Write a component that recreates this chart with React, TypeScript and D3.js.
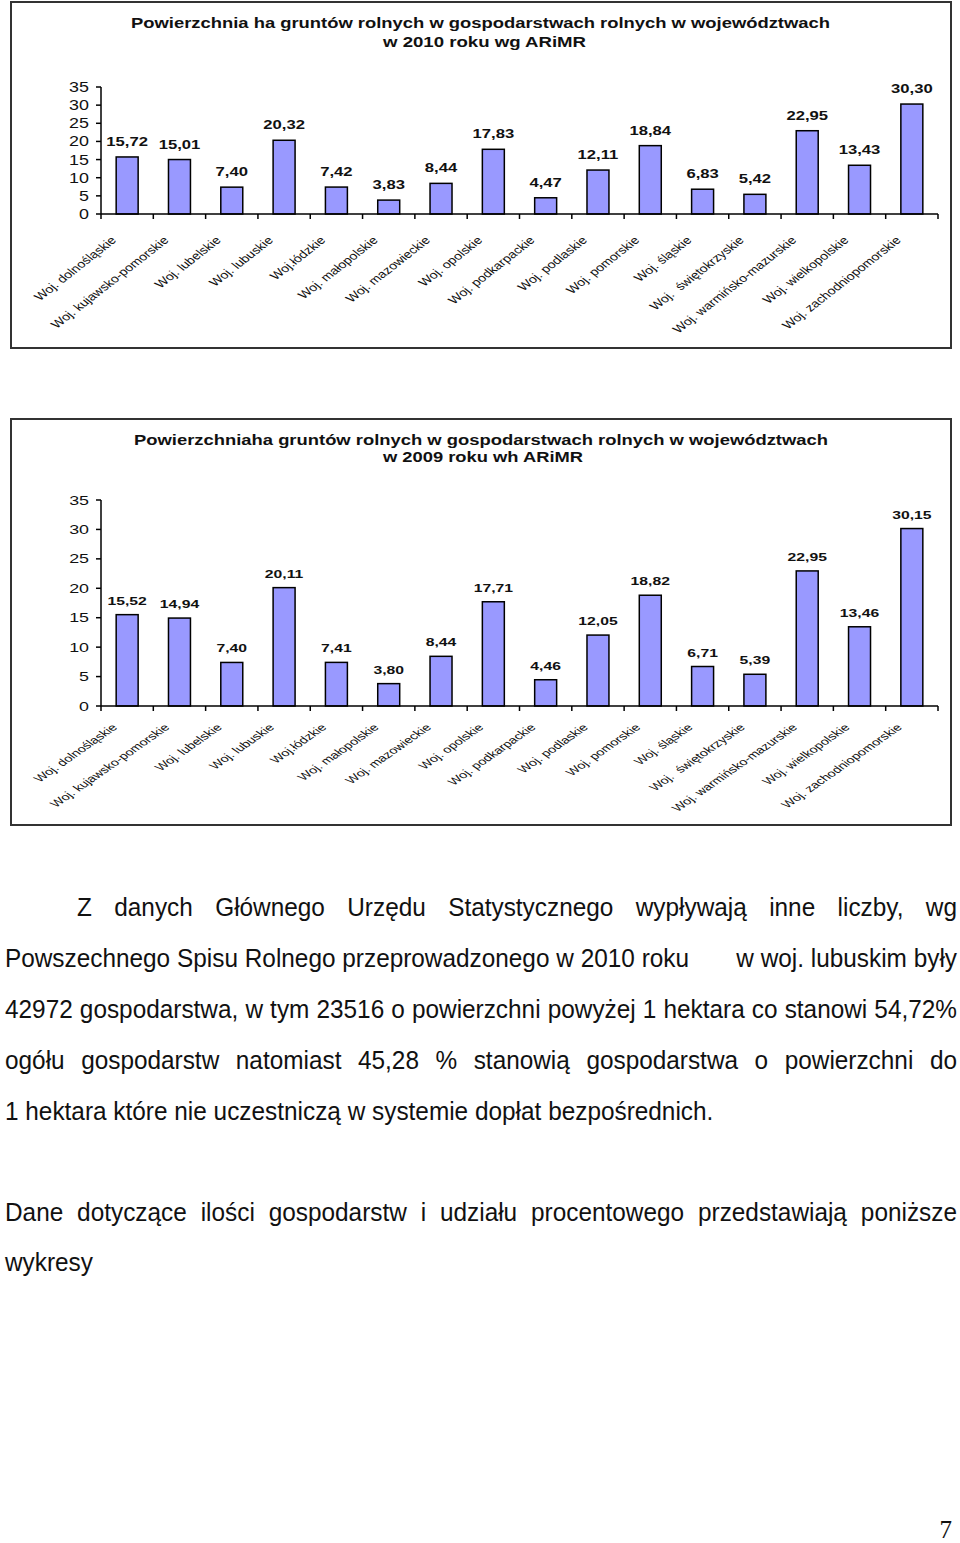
import React, { useEffect, useRef } from "react";
import * as d3 from "d3";

const categories = [
  "Woj. dolnośląskie",
  "Woj. kujawsko-pomorskie",
  "Woj. lubelskie",
  "Woj. lubuskie",
  "Woj.łódzkie",
  "Woj. małopolskie",
  "Woj. mazowieckie",
  "Woj. opolskie",
  "Woj. podkarpackie",
  "Woj. podlaskie",
  "Woj. pomorskie",
  "Woj. śląskie",
  "Woj.  świętokrzyskie",
  "Woj. warmińsko-mazurskie",
  "Woj. wielkopolskie",
  "Woj. zachodniopomorskie",
];

const values2010 = [15.72, 15.01, 7.4, 20.32, 7.42, 3.83, 8.44, 17.83, 4.47, 12.11, 18.84, 6.83, 5.42, 22.95, 13.43, 30.3];
const values2009 = [15.52, 14.94, 7.4, 20.11, 7.41, 3.8, 8.44, 17.71, 4.46, 12.05, 18.82, 6.71, 5.39, 22.95, 13.46, 30.15];

const yTicks = [0, 5, 10, 15, 20, 25, 30, 35];

const title2010 = ["Powierzchnia ha gruntów rolnych w gospodarstwach rolnych w województwach", "w 2010 roku wg ARiMR"];
const title2009 = ["Powierzchniaha gruntów rolnych w gospodarstwach rolnych w województwach", "w 2009 roku wh ARiMR"];

const paragraph1 = [
  "Z danych Głównego Urzędu Statystycznego wypływają inne liczby, wg",
  "Powszechnego Spisu Rolnego przeprowadzonego w 2010 roku|w woj. lubuskim były",
  "42972 gospodarstwa, w tym 23516 o powierzchni powyżej 1 hektara co stanowi 54,72%",
  "ogółu gospodarstw natomiast 45,28 % stanowią gospodarstwa o powierzchni do",
  "1 hektara które nie uczestniczą w systemie dopłat bezpośrednich.",
];
const paragraph2 = [
  "Dane dotyczące ilości gospodarstw i udziału procentowego przedstawiają poniższe",
  "wykresy",
];

const pageNumber = "7";

const fmt = (v: number) => d3.format(".2f")(v).replace(".", ",");

const SANS = "'Liberation Sans', Arial, sans-serif";

type ChartCfg = {
  values: number[];
  title: string[];
  box: [number, number, number, number];
  titleBase: [number, number];
  titleSpan: [[number, number], [number, number]];
  yTop: number;
  yBottom: number;
  stretch: number;
  tickFont: number;
  valueFont: number;
  catFont: number;
  labelGap: number;
  catDx: number;
  catDy: number;
};

function drawChart(svg: d3.Selection<SVGSVGElement, unknown, null, undefined>, cfg: ChartCfg) {
  const g = svg.append("g");
  const [bx, by, bw, bh] = cfg.box;
  g.append("rect")
    .attr("x", bx).attr("y", by).attr("width", bw).attr("height", bh)
    .attr("fill", "#fff").attr("stroke", "#333").attr("stroke-width", 2);

  cfg.title.forEach((t, i) => {
    const [x0, x1] = cfg.titleSpan[i];
    g.append("text")
      .attr("x", x0).attr("y", cfg.titleBase[i])
      .attr("textLength", x1 - x0)
      .attr("lengthAdjust", "spacingAndGlyphs")
      .attr("font-family", SANS)
      .attr("font-weight", "bold").attr("font-size", 14)
      .attr("fill", "#111")
      .text(t);
  });

  const x = d3.scaleBand<string>().domain(categories).range([101, 938]).paddingInner(0.58).paddingOuter(0.29);
  const y = d3.scaleLinear().domain([0, 35]).range([cfg.yBottom, cfg.yTop]);
  const step = x.step();

  g.selectAll("rect.bar")
    .data(cfg.values)
    .join("rect")
    .attr("class", "bar")
    .attr("x", (_, i) => x(categories[i])!)
    .attr("width", x.bandwidth())
    .attr("y", (d) => y(d))
    .attr("height", (d) => y(0) - y(d))
    .attr("fill", "#9999FF")
    .attr("stroke", "#000")
    .attr("stroke-width", 1.5);

  g.append("line").attr("x1", 101).attr("x2", 101).attr("y1", y(35)).attr("y2", y(0)).attr("stroke", "#000").attr("stroke-width", 1.5);
  yTicks.forEach((t) => {
    g.append("line").attr("x1", 96).attr("x2", 101).attr("y1", y(t)).attr("y2", y(t)).attr("stroke", "#000").attr("stroke-width", 1.5);
    g.append("text")
      .attr("transform", `translate(${89},${y(t) + cfg.tickFont * 0.36}) scale(${cfg.stretch},1)`)
      .attr("text-anchor", "end")
      .attr("font-family", SANS)
      .attr("font-size", cfg.tickFont)
      .attr("fill", "#111")
      .text(t);
  });

  g.append("line").attr("x1", 101).attr("x2", 938).attr("y1", y(0)).attr("y2", y(0)).attr("stroke", "#000").attr("stroke-width", 1.5);
  d3.range(categories.length + 1).forEach((i) => {
    const xx = 101 + i * step;
    g.append("line").attr("x1", xx).attr("x2", xx).attr("y1", y(0)).attr("y2", y(0) + 5).attr("stroke", "#000").attr("stroke-width", 1.5);
  });

  cfg.values.forEach((v, i) => {
    const cx = x(categories[i])! + x.bandwidth() / 2;
    g.append("text")
      .attr("transform", `translate(${cx},${y(v) - cfg.labelGap}) scale(${cfg.stretch},1)`)
      .attr("text-anchor", "middle")
      .attr("font-family", SANS)
      .attr("font-weight", "bold")
      .attr("font-size", cfg.valueFont)
      .attr("fill", "#111")
      .text(fmt(v));
  });

  categories.forEach((c, i) => {
    const cx = x(c)! + x.bandwidth() / 2;
    g.append("text")
      .attr("transform", `translate(${cx + cfg.catDx},${y(0) + cfg.catDy}) scale(${cfg.stretch},1) rotate(-45)`)
      .attr("text-anchor", "end")
      .attr("font-family", SANS)
      .attr("font-size", cfg.catFont)
      .attr("fill", "#111")
      .style("white-space", "pre")
      .text(c);
  });
}

const BODY_SIZE = 25;

type G = d3.Selection<SVGGElement, unknown, null, undefined>;

function makeWords(g: G, words: string[]) {
  return words.map((w) =>
    g.append("text")
      .attr("font-family", SANS)
      .attr("font-size", BODY_SIZE)
      .attr("fill", "#111")
      .text(w)
  );
}

function measure(nodes: d3.Selection<SVGTextElement, unknown, null, undefined>[]) {
  return nodes.map((n) => (n.node() as SVGTextElement).getComputedTextLength());
}

function setPos(n: d3.Selection<SVGTextElement, unknown, null, undefined>, x: number, y: number, sx: number) {
  n.attr("transform", `translate(${x},${y}) scale(${sx},1)`);
}

function placeWords(g: G, words: string[], x0: number, x1: number | null, baseline: number, sx: number) {
  const nodes = makeWords(g, words);
  const widths = measure(nodes).map((w) => w * sx);
  const total = d3.sum(widths);
  let gap = BODY_SIZE * 0.278 * sx;
  if (x1 !== null && words.length > 1) gap = (x1 - x0 - total) / (words.length - 1);
  let cur = x0;
  nodes.forEach((n, i) => {
    setPos(n, cur, baseline, sx);
    cur += widths[i] + gap;
  });
}

function placeRight(g: G, words: string[], x1: number, baseline: number, sx: number) {
  const nodes = makeWords(g, words);
  const widths = measure(nodes).map((w) => w * sx);
  const space = BODY_SIZE * 0.278 * sx;
  let cur = x1;
  for (let i = nodes.length - 1; i >= 0; i--) {
    cur -= widths[i];
    setPos(nodes[i], cur, baseline, sx);
    cur -= space;
  }
}

export default function App() {
  const ref = useRef<SVGSVGElement>(null);
  useEffect(() => {
    const svg = d3.select(ref.current!);
    svg.selectAll("*").remove();
    svg.append("rect").attr("width", 960).attr("height", 1543).attr("fill", "#fff");

    drawChart(svg, {
      values: values2010,
      title: title2010,
      box: [11, 2, 940, 346],
      titleBase: [28, 47],
      titleSpan: [[131, 830], [383, 586]],
      yTop: 87,
      yBottom: 214,
      stretch: 1.28,
      tickFont: 14,
      valueFont: 13,
      catFont: 11,
      labelGap: 11,
      catDx: -10,
      catDy: 27,
    });

    drawChart(svg, {
      values: values2009,
      title: title2009,
      box: [11, 419, 940, 406],
      titleBase: [445, 462],
      titleSpan: [[134, 828], [383, 583]],
      yTop: 500,
      yBottom: 706,
      stretch: 1.43,
      tickFont: 12.5,
      valueFont: 11,
      catFont: 10,
      labelGap: 10,
      catDx: -9,
      catDy: 22,
    });

    const tg = svg.append("g");
    const L = 5, R = 957;

    const probe = tg.append("text").attr("font-family", SANS).attr("font-size", BODY_SIZE)
      .style("white-space", "pre").text(paragraph1[1].split("|")[0]);
    const probeW = (probe.node() as SVGTextElement).getComputedTextLength();
    probe.remove();
    const sx = probeW > 0 ? 684 / probeW : 1;

    const bases1 = [916, 967, 1018, 1069, 1120];
    paragraph1.forEach((line, i) => {
      if (line.includes("|")) {
        const [left, right] = line.split("|");
        placeWords(tg, left.split(" "), L, null, bases1[i], sx);
        placeRight(tg, right.split(" "), R, bases1[i], sx);
      } else {
        const x0 = i === 0 ? 77 : L;
        const justify = i < paragraph1.length - 1;
        placeWords(tg, line.split(" "), x0, justify ? R : null, bases1[i], sx);
      }
    });
    const bases2 = [1221, 1271];
    paragraph2.forEach((line, i) => {
      placeWords(tg, line.split(" "), L, i < paragraph2.length - 1 ? R : null, bases2[i], sx);
    });

    svg.append("text")
      .attr("x", 952).attr("y", 1538)
      .attr("text-anchor", "end")
      .attr("font-family", "'Liberation Serif', 'Times New Roman', serif")
      .attr("font-size", 25)
      .attr("fill", "#111")
      .text(pageNumber);
  }, []);

  return (
    <svg
      ref={ref}
      width={960}
      height={1543}
      style={{ position: "absolute", left: 0, top: 0, display: "block" }}
    />
  );
}
